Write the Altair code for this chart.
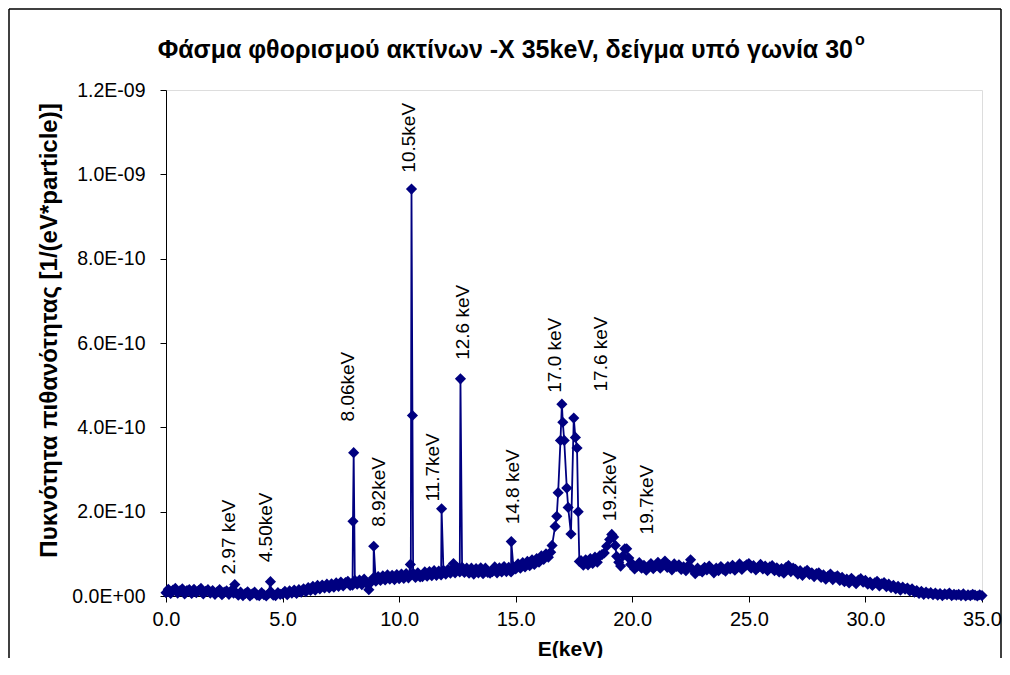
import altair as alt
import pandas as pd

# ---------------- data (values in units of 1e-12 1/(eV*particle)) ----------------
# Continuum every 0.1 keV from 0.0 to 35.0 keV (None = covered by peak lists)
base_0_9 = [8, 16, 6, 14, 18, 7, 12, 17, 5, 13,
            15, 6, 16, 8, 13, 18, 5, 11, 15, 7,
            13, 4, 10, 15, 3, 9, 12, 4, 13, 7,
            8, 2, 9, 1, 6, 10, 0, 5, 9, 2,
            1, 8, 3, 0, 6, 10, 2, 1, 8, 4,
            5, 11, 3, 12, 7, 14, 6, 15, 9, 17,
            10, 20, 13, 23, 14, 25, 17, 26, 19, 28,
            19, 29, 21, 31, 23, 33, 24, 32, 35, 25,
            26, 37, 28, 38, 27, 40, 30, 15, 33, 43,
            35, 46, 37, 48, 38, 50, 40, 49, 39, 51]
base_10_19 = [41, 52, 42, 53, 43, 51, 54, 44, 55, 45,
              46, 57, 47, 58, 48, 60, 49, 59, 50, 61,
              52, 63, 54, 65, 55, 67, 57, 68, 56, 66,
              54, 66, 52, 65, 55, 67, 53, 66, 56, 54,
              58, 69, 55, 67, 57, 70, 58, 68, 57, 69,
              64, 76, 66, 79, 69, 82, 72, 86, 75, 89,
              80, 95, 87, 100, 92, 104, None, None, None, None,
              None, None, None, None, None, None, None, None, 84, 73,
              86, 74, 89, 77, 92, 80, 95, 98, 102, None,
              None, None, None, None, None, None, None, None, None, None]
base_20_29 = [76, 64, 70, 79, 66, 73, 61, 68, 77, 65,
              71, 80, 66, 75, 83, 68, 72, 62, 76, 70,
              74, 63, 69, 60, 72, 86, 62, 53, 66, 60,
              57, 68, 62, 71, 64, 55, 66, 60, 70, 63,
              59, 70, 64, 73, 61, 68, 76, 63, 70, 74,
              77, 66, 72, 62, 68, 75, 64, 71, 60, 69,
              72, 60, 67, 57, 65, 54, 68, 72, 58, 66,
              63, 52, 60, 49, 57, 61, 51, 55, 46, 53,
              55, 44, 50, 40, 47, 52, 39, 45, 48, 37,
              44, 34, 40, 31, 42, 36, 29, 38, 41, 33]
base_30_35 = [37, 28, 33, 25, 31, 35, 24, 29, 32, 22,
              28, 20, 25, 17, 23, 14, 21, 16, 19, 12,
              17, 9, 13, 6, 11, 4, 9, 5, 8, 3,
              7, 2, 6, 1, 5, 3, 7, 1, 4, 2,
              4, 1, 5, 0, 3, 1, 4, 2, 0, 3,
              1]
base_step_kev = 0.1

# Fluorescence lines (energy keV, value 1e-12)
peak_E = [2.95, 4.48, 8.02, 8.05, 8.91, 10.48, 10.53, 10.57, 11.82, 12.33, 12.63, 14.81]
peak_v = [27, 34, 177, 340, 118, 75, 965, 428, 207, 77, 515, 129]

# cluster around 17 keV
k17_E = [16.56, 16.69, 16.76, 16.82, 16.92, 16.98, 17.02, 17.08, 17.19, 17.25, 17.37,
         17.49, 17.56, 17.63, 17.68, 17.73]
k17_v = [120, 165, 189, 245, 369, 455, 412, 369, 256, 210, 147,
         422, 376, 351, 200, 82]

# cluster around 19.2 keV
k19_E = [18.90, 19.03, 19.12, 19.20, 19.27, 19.33, 19.42, 19.50, 19.60, 19.68, 19.76, 19.85, 19.93]
k19_v = [118, 134, 146, 140, 120, 94, 80, 71, 95, 112, 112, 90, 75]

# peak annotations
label_text = ["2.97 keV", "4.50keV", "8.06keV", "8.92keV", "10.5keV", "11.7keV",
              "12.6 keV", "14.8 keV", "17.0 keV", "17.6 keV", "19.2keV", "19.7keV"]
label_E = [2.71, 4.30, 7.79, 9.13, 10.44, 11.45, 12.74, 14.90, 16.70, 18.66, 19.03, 20.62]
label_v = [51, 80, 414, 164, 1004, 224, 560, 170, 482, 485, 177, 146]

# axis ticks
x_ticks = [0, 5, 10, 15, 20, 25, 30, 35]
y_ticks = [0, 2e-10, 4e-10, 6e-10, 8e-10, 1.0e-9, 1.2e-9]
y_tick_labels = ["0.0E+00", "2.0E-10", "4.0E-10", "6.0E-10", "8.0E-10", "1.0E-09", "1.2E-09"]

title_main = "Φάσμα φθορισμού ακτίνων -Χ 35keV, δείγμα υπό γωνία 30"
title_sup = "o"
x_title = "E(keV)"
y_title = "Πυκνότητα πιθανότητας [1/(eV*particle)]"

UNIT = 1e-12

# ---------------- build tables ----------------
rows = []
base_all = base_0_9 + base_10_19 + base_20_29 + base_30_35
for i, v in enumerate(base_all):
    if v is not None:
        rows.append({"E": round(i * base_step_kev, 2), "v": v * UNIT})
for E, v in zip(peak_E + k17_E + k19_E, peak_v + k17_v + k19_v):
    rows.append({"E": E, "v": v * UNIT})
df = pd.DataFrame(rows).sort_values("E").reset_index(drop=True)

lab = pd.DataFrame({"E": label_E, "v": [v * UNIT for v in label_v], "t": label_text})

# label expression built from tick lists
expr = "''"
for val, txt in reversed(list(zip(y_ticks, y_tick_labels))):
    expr = f"abs(datum.value - {val}) < 1e-11 ? '{txt}' : " + expr

NAVY = "#000080"
FONT = "Liberation Sans"
W, H = 816, 506

xscale = alt.Scale(domain=[0, 35], nice=False, zero=False)
yscale = alt.Scale(domain=[0, 1.2e-9], nice=False)

xaxis = alt.Axis(values=x_ticks, format=".1f", grid=False, tickSize=6, tickColor="black",
                 domainColor="black", labelFontSize=20, labelColor="black", labelPadding=7,
                 labelFont=FONT, title=x_title, titleFont=FONT, titleFontSize=21,
                 titleFontWeight="bold", titleColor="black", titleX=404, titleY=53,
                 titleBaseline="middle", labelFlush=False)
yaxis = alt.Axis(values=y_ticks, labelExpr=expr, grid=False, tickSize=6, tickColor="black",
                 domainColor="black", labelFontSize=19.5, labelColor="black", labelPadding=15,
                 labelFont=FONT, title=y_title, titleFont=FONT, titleFontSize=24,
                 titleFontWeight="bold", titleColor="black", titleX=-117, titleY=240,
                 titleAngle=270, titleAlign="center", titleBaseline="middle")

line = alt.Chart(df).mark_line(color=NAVY, strokeWidth=1.8).encode(
    x=alt.X("E:Q", scale=xscale, axis=xaxis),
    y=alt.Y("v:Q", scale=yscale, axis=yaxis),
)
pts = alt.Chart(df).mark_point(shape="diamond", filled=True, color=NAVY, size=125, opacity=1).encode(
    x=alt.X("E:Q", scale=xscale),
    y=alt.Y("v:Q", scale=yscale),
)
labels = alt.Chart(lab).mark_text(angle=270, align="left", baseline="middle", fontSize=19,
                                  font=FONT, color="black").encode(
    x=alt.X("E:Q", scale=xscale),
    y=alt.Y("v:Q", scale=yscale),
    text="t:N",
)

one = pd.DataFrame({"k": [0]})
left_b = alt.Chart(one).mark_rule(color="black", strokeWidth=1.5).encode(
    x=alt.value(-157), y=alt.value(-81), y2=alt.value(700))
top_b = alt.Chart(one).mark_rule(color="black", strokeWidth=1.5).encode(
    x=alt.value(-157), x2=alt.value(835), y=alt.value(-81))
right_b = alt.Chart(one).mark_rule(color="black", strokeWidth=1.5).encode(
    x=alt.value(835), y=alt.value(-81), y2=alt.value(700))

ttl = alt.Chart(one).mark_text(align="right", baseline="middle", fontSize=25, fontWeight="bold",
                               font=FONT, color="black").encode(
    x=alt.value(687), y=alt.value(-40), text=alt.value(title_main)
)
sup = alt.Chart(one).mark_text(align="left", baseline="middle", fontSize=16, fontWeight="bold",
                               font=FONT, color="black").encode(
    x=alt.value(689), y=alt.value(-50), text=alt.value(title_sup)
)

chart = alt.layer(left_b, top_b, right_b, line, pts, labels, ttl, sup).properties(
    width=W, height=H,
    padding={"left": 158, "top": 82, "right": 20, "bottom": 62},
    autosize=alt.AutoSizeParams(type="none"),
).configure_view(stroke=None).configure(background="white")

chart.save("out.html", embed_options={"renderer": "svg", "actions": False})
